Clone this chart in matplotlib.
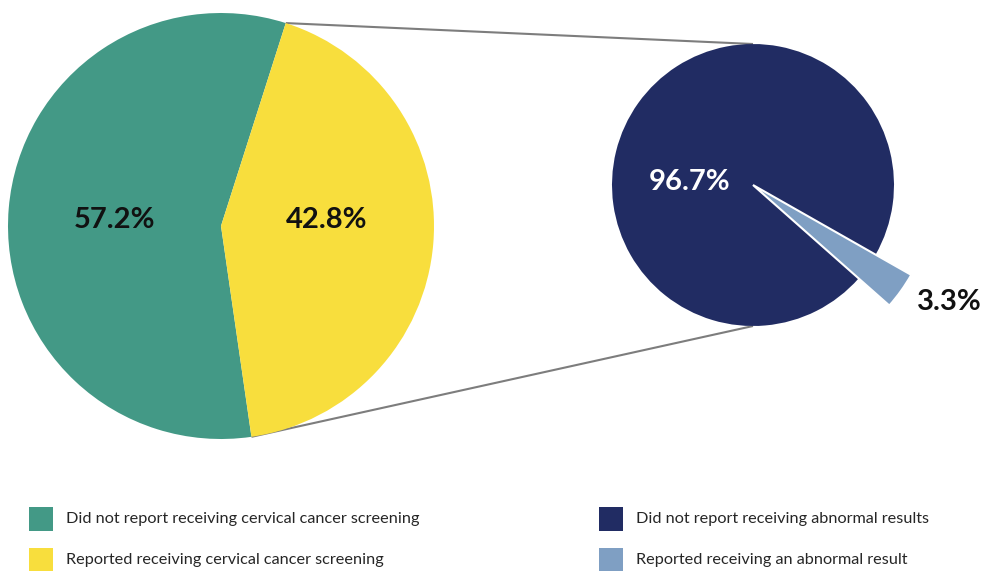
import matplotlib
matplotlib.use("Agg")
import matplotlib.pyplot as plt
from matplotlib.patches import Rectangle
import numpy as np

plt.rcParams['font.family'] = ['Lato', 'DejaVu Sans']

# Screening breakdown (left pie)
screen_labels = ["Did not report receiving cervical cancer screening",
                 "Reported receiving cervical cancer screening"]
screen_values = [57.2, 42.8]
screen_colors = ["#439986", "#F8DE3D"]

# Abnormal-result breakdown among those screened (right pie)
result_labels = ["Did not report receiving abnormal results",
                 "Reported receiving an abnormal result"]
result_values = [96.7, 3.3]
result_colors = ["#212C63", "#7F9FC3"]

W, H = 987, 571
fig = plt.figure(figsize=(W / 100, H / 100), dpi=100)
ax = fig.add_axes([0, 0, 1, 1])

# geometry in pixel units (y measured upward)
lc, lr = (221, H - 226), 213
rc, rr = (753, H - 185), 141
r_out = 182

lw, _ = ax.pie(screen_values, colors=screen_colors, center=lc, radius=lr,
               startangle=72.3, counterclock=True, frame=True,
               wedgeprops=dict(linewidth=0))
rw, _ = ax.pie(result_values, colors=result_colors, center=rc, radius=rr,
               startangle=-29.6, counterclock=True, frame=True,
               wedgeprops=dict(linewidth=0))
rw[1].set_radius(r_out)
rw[1].set_edgecolor("white")
rw[1].set_linewidth(1.5)
rw[1].set_zorder(3)

# connector lines from the yellow slice edges to the right pie
def pt(c, r, ang):
    a = np.deg2rad(ang)
    return c[0] + r * np.cos(a), c[1] + r * np.sin(a)

y = lw[1]
p1 = pt(lc, lr, y.theta2)
p2 = pt(lc, lr, y.theta1)
q1 = pt(rc, rr, 90)
q2 = pt(rc, rr, 270)
for a, b in ((p1, q1), (p2, q2)):
    ax.plot([a[0], b[0]], [a[1], b[1]], color="#7d7d7d", lw=1.5,
            zorder=0, solid_capstyle="butt")

fs = 21
ax.text(115, H - 220, f"{screen_values[0]}%", ha="center", va="center",
        fontsize=fs, fontweight="bold", color="#111111")
ax.text(327, H - 220, f"{screen_values[1]}%", ha="center", va="center",
        fontsize=fs, fontweight="bold", color="#111111")
ax.text(690, H - 182, f"{result_values[0]}%", ha="center", va="center",
        fontsize=fs, fontweight="bold", color="white", zorder=5)
ax.text(949, H - 302, f"{result_values[1]}%", ha="center", va="center",
        fontsize=fs, fontweight="bold", color="#111111")

# legend
def legend_item(x, yc, color, label):
    ax.add_patch(Rectangle((x, H - yc - 12), 24, 24, facecolor=color,
                           edgecolor="none", clip_on=False))
    ax.text(x + 37, H - yc, label, ha="left", va="center",
            fontsize=11.7, color="#262626")

for i, (lab, col) in enumerate(zip(screen_labels, screen_colors)):
    legend_item(29, 519 + 41 * i, col, lab)
for i, (lab, col) in enumerate(zip(result_labels, result_colors)):
    legend_item(599, 519 + 41 * i, col, lab)

ax.set_xlim(0, W)
ax.set_ylim(0, H)
ax.set_aspect("auto")
ax.axis("off")

fig.savefig("out.png", dpi=100, facecolor="white")
